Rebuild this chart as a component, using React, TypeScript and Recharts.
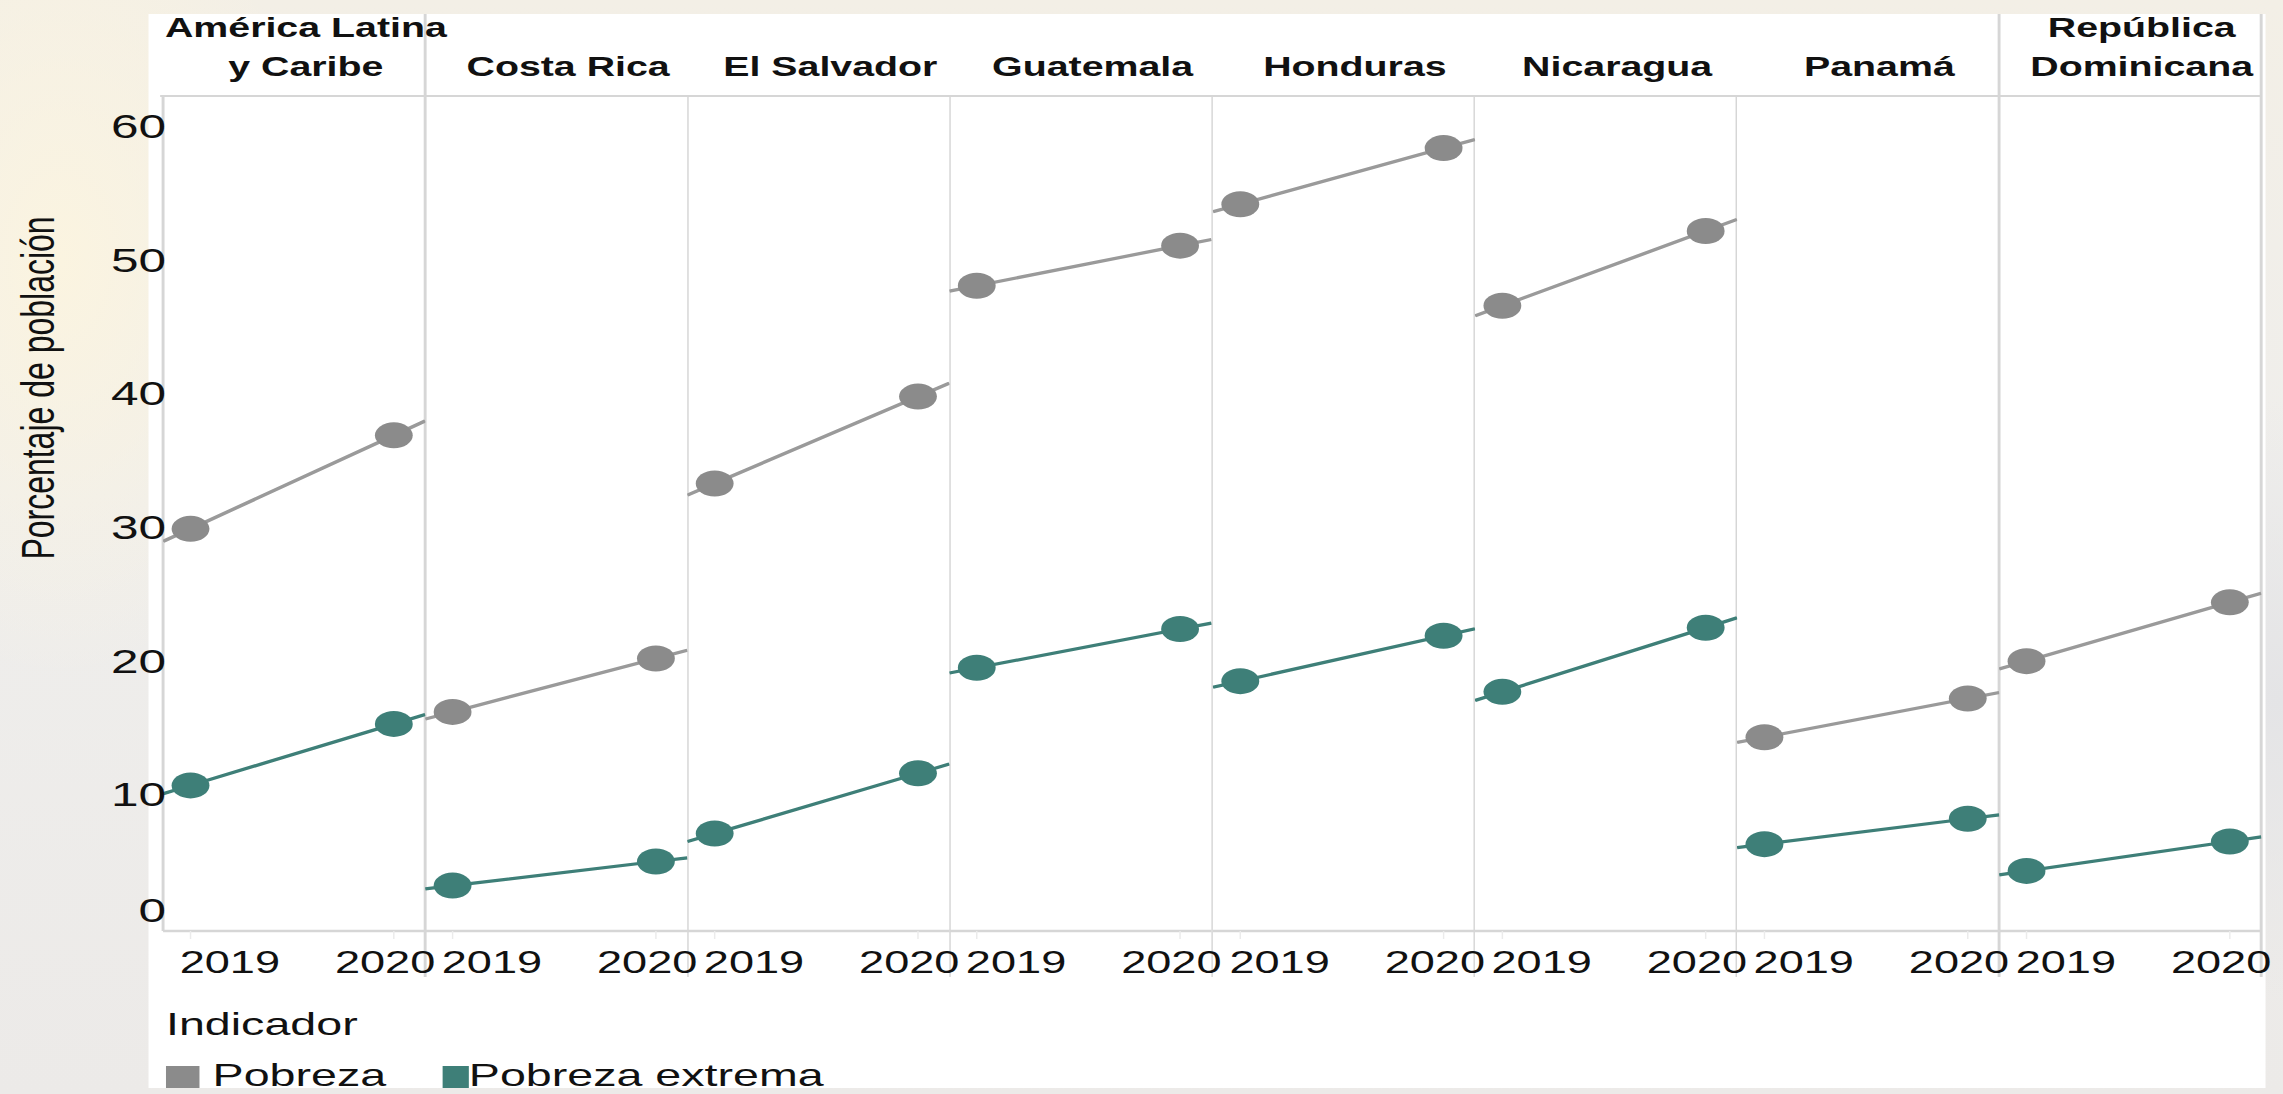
import React from 'react';
import { ComposedChart, Line, XAxis, YAxis } from 'recharts';

// ---------- data ----------
const countries = [
  'América Latina\ny Caribe',
  'Costa Rica',
  'El Salvador',
  'Guatemala',
  'Honduras',
  'Nicaragua',
  'Panamá',
  'República\nDominicana',
];
const years = [2019, 2020];
const pobreza2019 = [30.1, 16.4, 33.5, 48.3, 54.4, 46.8, 14.5, 20.2];
const pobreza2020 = [37.1, 20.4, 40.0, 51.3, 58.6, 52.4, 17.4, 24.6];
const extrema2019 = [10.9, 3.4, 7.3, 19.7, 18.7, 17.9, 6.5, 4.5];
const extrema2020 = [15.5, 5.2, 11.8, 22.6, 22.1, 22.7, 8.4, 6.7];
const yTicks = [0, 10, 20, 30, 40, 50, 60];
const legendTitle = 'Indicador';
const seriesNames = ['Pobreza', 'Pobreza extrema'];
const yTitle = 'Porcentaje de población';

// ---------- layout / style ----------
const SCALE = 2283 / 1568;
const FONT = '"Liberation Sans", Arial, Helvetica, sans-serif';
const X_DOMAIN: [number, number] = [2018.865, 2020.155];
const Y_DOMAIN: [number, number] = [0, 62.5];
const PANEL_LEFT = 112;
const PANEL_W = 180.125;
const PLOT_TOP = 96;
const PLOT_BOTTOM = 931;
const AXIS_H = 50;
const EXTRA_R = 40;
const GRAY_LINE = '#9a9a9a';
const GRAY_DOT = '#8b8b8b';
const TEAL = '#3e7f78';
const RULE = '#d6d6d6';

// trend line through the two yearly readings, spanning the panel (as in the original)
const trendAt = (a: number, b: number, x: number) => a + (b - a) * (x - years[0]);

function panelData(i: number) {
  const xs = [X_DOMAIN[0], years[0], years[1], X_DOMAIN[1]];
  return xs.map((x) => ({
    x,
    pT: trendAt(pobreza2019[i], pobreza2020[i], x),
    peT: trendAt(extrema2019[i], extrema2020[i], x),
    p: x === years[0] ? pobreza2019[i] : x === years[1] ? pobreza2020[i] : null,
    pe: x === years[0] ? extrema2019[i] : x === years[1] ? extrema2020[i] : null,
  }));
}

const XTick = (props: any) => {
  const { x, y, payload } = props;
  const cx = payload.value === years[0] ? x + 27 : x - 6;
  return (
    <text x={cx} y={y + 23} dy="0.35em" textAnchor="middle" fontSize={31} fill="#111" fontFamily={FONT}>
      {payload.value}
    </text>
  );
};

const YTick = (props: any) => {
  const { x, y, payload } = props;
  const off = payload.value === 0 ? -21 : -3;
  return (
    <text x={x + 2} y={y + off} dy="0.35em" textAnchor="end" fontSize={34} fill="#111" fontFamily={FONT}>
      {payload.value}
    </text>
  );
};

const YTitle = () => (
  <text
    x={26}
    y={388 - PLOT_TOP}
    dy="0.35em"
    textAnchor="middle"
    fontSize={32}
    fill="#111"
    fontFamily={FONT}
    transform={`rotate(-90, 26, ${388 - PLOT_TOP})`}
  >
    {yTitle}
  </text>
);

function Panel({ i }: { i: number }) {
  const first = i === 0;
  const width = (first ? PANEL_LEFT + PANEL_W : PANEL_W) + EXTRA_R;
  const left = first ? 0 : PANEL_LEFT + i * PANEL_W;
  return (
    <div style={{ position: 'absolute', left, top: PLOT_TOP }}>
      <ComposedChart
        width={width}
        height={PLOT_BOTTOM - PLOT_TOP + AXIS_H}
        data={panelData(i)}
        margin={{ top: 0, right: EXTRA_R, bottom: 0, left: 0 }}
      >
        <XAxis
          dataKey="x"
          type="number"
          domain={X_DOMAIN}
          ticks={years}
          interval={0}
          height={AXIS_H}
          tickSize={8}
          tickMargin={0}
          tickLine={{ stroke: '#ebebeb' }}
          axisLine={{ stroke: RULE, strokeWidth: 2.5 }}
          tick={<XTick />}
          allowDataOverflow
        />
        <YAxis
          hide={!first}
          type="number"
          domain={Y_DOMAIN}
          ticks={yTicks}
          interval={0}
          width={PANEL_LEFT}
          tickSize={0}
          tickMargin={0}
          tickLine={false}
          axisLine={false}
          tick={<YTick />}
          label={first ? <YTitle /> : undefined}
          allowDataOverflow
        />
        <Line type="linear" dataKey="pT" stroke={GRAY_LINE} strokeWidth={3.2} dot={false} activeDot={false} isAnimationActive={false} />
        <Line type="linear" dataKey="peT" stroke={TEAL} strokeWidth={3.2} dot={false} activeDot={false} isAnimationActive={false} />
        <Line type="linear" dataKey="p" stroke="none" dot={{ r: 13, fill: GRAY_DOT, stroke: 'none' }} activeDot={false} isAnimationActive={false} />
        <Line type="linear" dataKey="pe" stroke="none" dot={{ r: 13, fill: TEAL, stroke: 'none' }} activeDot={false} isAnimationActive={false} />
      </ComposedChart>
    </div>
  );
}

const vLine = (x: number, top: number, bottom: number, key: string) => (
  <div key={key} style={{ position: 'absolute', left: x - 0.7, top, width: 1.4, height: bottom - top, background: RULE }} />
);

export default function App() {
  const rules: React.ReactNode[] = [];
  rules.push(vLine(PANEL_LEFT, PLOT_TOP, PLOT_BOTTOM, 'l0'));
  for (let i = 1; i <= countries.length; i++) {
    const x = PANEL_LEFT + i * PANEL_W;
    rules.push(vLine(x, PLOT_TOP, 977, 'l' + i));
  }
  [1, 7, 8].forEach((i) => rules.push(vLine(PANEL_LEFT + i * PANEL_W, 14, PLOT_TOP, 'h' + i)));

  return (
    <div
      style={{
        position: 'absolute',
        left: 0,
        top: 0,
        width: 2283,
        height: 1094,
        overflow: 'hidden',
        background:
          'radial-gradient(ellipse 260px 420px at 60px 260px, #fbf4e0 0%, rgba(251,244,224,0) 100%), radial-gradient(ellipse 400px 300px at 2283px 700px, #e4e4e6 0%, rgba(228,228,230,0) 100%), linear-gradient(180deg, #f3efe6 0%, #efeeec 45%, #eceae8 100%)',
      }}
    >
      <div
        style={{
          position: 'absolute',
          left: 0,
          top: 0,
          width: 1568,
          height: 1094,
          transform: `scaleX(${SCALE})`,
          transformOrigin: '0 0',
          fontFamily: FONT,
        }}
      >
        {/* white card */}
        <div style={{ position: 'absolute', left: 102, top: 14, width: 1454, height: 1074, background: '#ffffff' }}>
          <div style={{ position: 'absolute', left: 114 - 102, top: 1008 - 14, fontSize: 32, lineHeight: '32px', color: '#111', whiteSpace: 'nowrap' }}>
            {legendTitle}
          </div>
          <div style={{ position: 'absolute', left: 114 - 102, top: 1066 - 14, width: 23, height: 22, background: GRAY_DOT }} />
          <div style={{ position: 'absolute', left: 146 - 102, top: 1059 - 14, fontSize: 32, lineHeight: '32px', color: '#111', whiteSpace: 'nowrap' }}>
            {seriesNames[0]}
          </div>
          <div style={{ position: 'absolute', left: 304 - 102, top: 1066 - 14, width: 18, height: 22, background: TEAL }} />
          <div style={{ position: 'absolute', left: 322 - 102, top: 1059 - 14, fontSize: 32, lineHeight: '32px', color: '#111', whiteSpace: 'nowrap' }}>
            {seriesNames[1]}
          </div>
        </div>

        {/* header rule */}
        <div style={{ position: 'absolute', left: 110, top: PLOT_TOP - 1, width: PANEL_LEFT + 8 * PANEL_W - 110, height: 2, background: RULE }} />
        {rules}

        {/* panel headers */}
        {countries.map((c, i) => (
          <div
            key={c}
            style={{
              position: 'absolute',
              left: PANEL_LEFT + i * PANEL_W,
              top: 9,
              width: PANEL_W,
              height: 78,
              paddingLeft: 16,
              boxSizing: 'border-box',
              display: 'flex',
              flexDirection: 'column',
              justifyContent: 'flex-end',
              alignItems: 'center',
              fontSize: 27,
              fontWeight: 'bold',
              lineHeight: '39px',
              color: '#111',
              whiteSpace: 'nowrap',
            }}
          >
            {c.split('\n').map((line) => (
              <div key={line}>{line}</div>
            ))}
          </div>
        ))}

        {countries.map((c, i) => (
          <Panel key={c} i={i} />
        ))}
      </div>
    </div>
  );
}
